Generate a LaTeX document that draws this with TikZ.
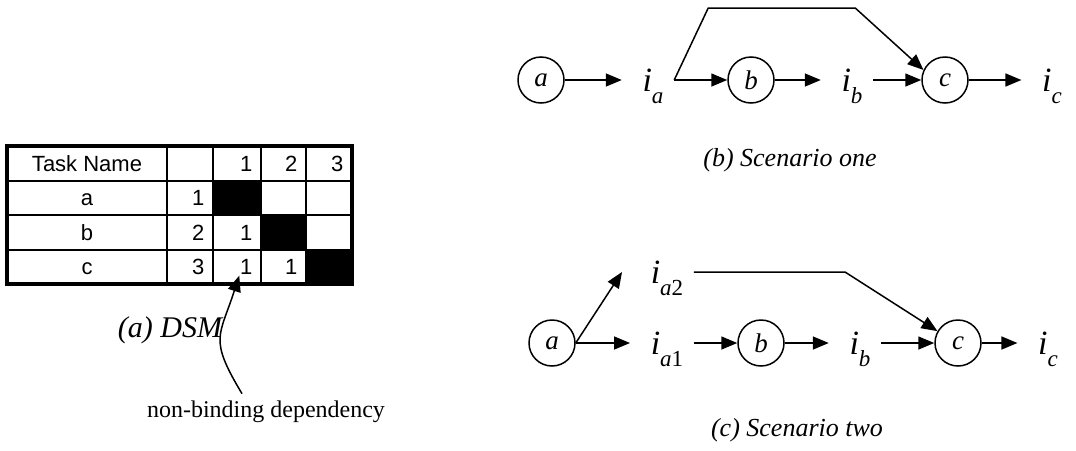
\documentclass[tikz,border=0pt]{standalone}
\usepackage{fontspec}
\setmainfont{Liberation Serif}
\newfontfamily\tablefont{Liberation Sans}
\usetikzlibrary{arrows.meta}

\newcommand{\ivar}[1]{\textit{i}\raisebox{-0.38em}{\fontsize{11.5}{11.5}\selectfont #1}}

\begin{document}
\begin{tikzpicture}[x=0.5pt,y=-0.5pt,
				line width=0.75pt,
				>={Triangle[length=8pt,width=6.5pt]},
				taskVertex/.style={draw,circle,minimum size=23pt,inner sep=0pt,font=\fontsize{13.5}{13.5}\selectfont\itshape},
				infoLabel/.style={inner xsep=5pt,inner ysep=0pt,text height=11pt,text depth=0pt,font=\fontsize{17}{17}\selectfont},
				feedArrow/.style={->,shorten >=5pt},
				tableCell/.style={inner sep=0pt,text height=7.9pt,text depth=0pt,font=\tablefont\fontsize{11}{11}\selectfont},
				captionText/.style={font=\fontsize{13}{13}\selectfont\itshape}]
			\useasboundingbox (0,0) rectangle (1076,450);

			% DSM table
			\fill (213,181) rectangle (261,215)
			      (261,215) rectangle (306,250)
			      (306,250) rectangle (352,284);
			\foreach \x in {7,167,213,261,306,352}
				\draw[line width=1.3pt] (\x,146) -- (\x,284);
			\foreach \y in {146,181,215,250,284}
				\draw[line width=1.3pt] (7,\y) -- (352,\y);
			\draw[line width=1.7pt] (7,146) rectangle (352,284);

			\node[tableCell] (head) at (87,164) {Task Name};
			\foreach \n/\x in {1/253,2/298,3/344}
				\node[tableCell,anchor=east] (head\n) at (\x,164) {\n};
			\foreach \n/\t/\y in {1/a/198,2/b/233,3/c/267} {
					\node[tableCell] (task\t) at (87,\y) {\t};
					\node[tableCell,anchor=east] (row\t) at (205,\y) {\n};
				}
			\node[tableCell,anchor=east] (ba) at (253,233) {1};
			\node[tableCell,anchor=east] (ca) at (253,267) {1};
			\node[tableCell,anchor=east] (cb) at (298,267) {1};

			\node[font=\fontsize{15}{15}\selectfont\itshape] (capa) at (170,330) {(a) DSM};
			\node[font=\fontsize{12}{12}\selectfont] (note) at (266,412) {non-binding dependency};
			\draw[->] ([xshift=-12pt]note.north) to[out=121,in=-108,looseness=1.4] (ca.south west);

			% scenario one
			\node[taskVertex] (a1) at (541,80) {a};
			\node[infoLabel] (ia) at (653,80) {\ivar{\textit{a}}};
			\node[taskVertex] (b1) at (751,80) {b};
			\node[infoLabel] (ib) at (852,80) {\ivar{\textit{b}}};
			\node[taskVertex] (c1) at (945,80) {c};
			\node[infoLabel] (ic) at (1052,80) {\ivar{\textit{c}}};
			\draw[feedArrow] (a1) -- (ia);
			\draw[->] (ia) -- (b1);
			\draw[feedArrow] (b1) -- (ib);
			\draw[->] (ib) -- (c1);
			\draw[feedArrow] (c1) -- (ic);
			\draw[->] (ia.east) -- ++(34,-72) -- ++(147,0) -- (c1.155);
			\node[captionText] (capb) at (790,160) {(b) Scenario one};

			% scenario two
			\node[taskVertex] (a2) at (552,343) {a};
			\node[infoLabel] (ia1) at (667,343) {\ivar{\textit{a}1}};
			\node[infoLabel] (ia2) at (667,272) {\ivar{\textit{a}2}};
			\node[taskVertex] (b2) at (761,343) {b};
			\node[infoLabel] (ib2) at (860,343) {\ivar{\textit{b}}};
			\node[taskVertex] (c2) at (958,343) {c};
			\node[infoLabel] (ic2) at (1048,343) {\ivar{\textit{c}}};
			\draw[feedArrow] (a2.east) -- (ia1);
			\draw[->] (a2.east) -- ([xshift=-9pt]ia2.west);
			\draw[->] (ia1) -- (b2);
			\draw[feedArrow] (b2) -- (ib2);
			\draw[->] (ib2) -- (c2);
			\draw[feedArrow] (c2) -- (ic2);
			\draw[->] (ia2) -- ++(178,0) -- (c2.150);
			\node[captionText] (capc) at (797,430) {(c) Scenario two};
		\end{tikzpicture}
\end{document}
